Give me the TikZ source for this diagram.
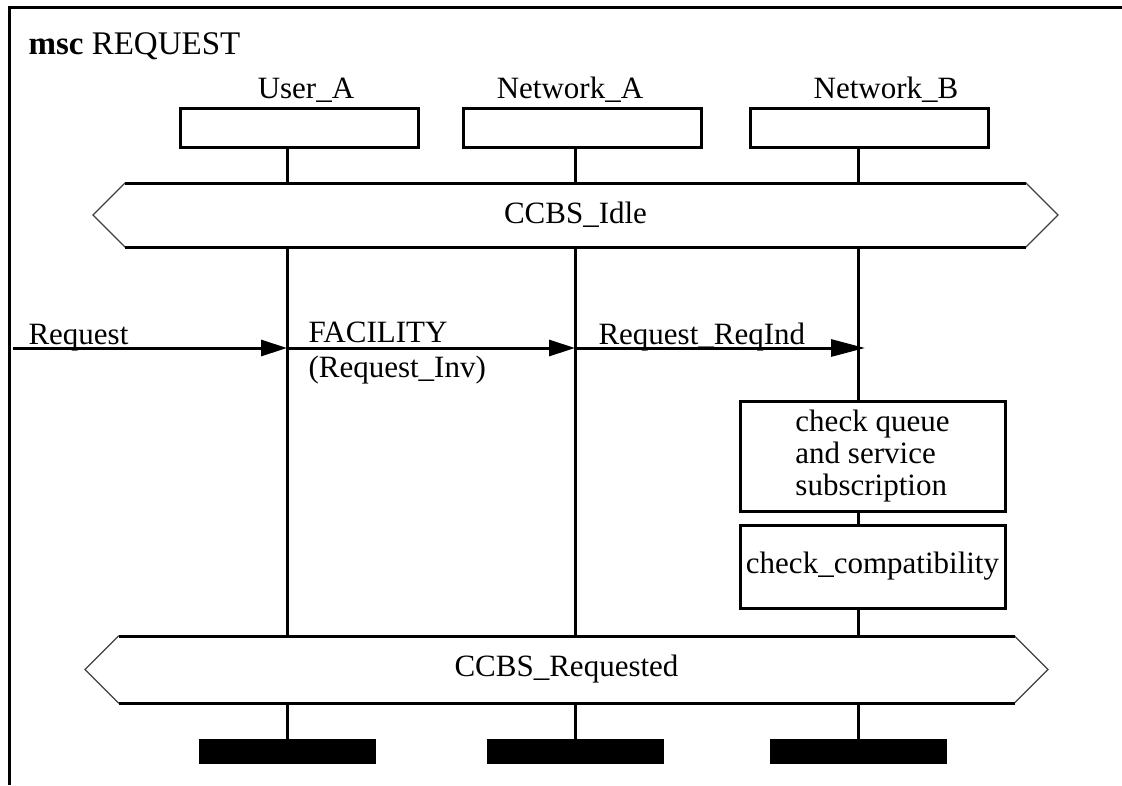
\documentclass[tikz,border=0pt]{standalone}
\usepackage{fontspec}
\setmainfont{Liberation Serif}
\usetikzlibrary{arrows.meta, positioning, shapes.symbols}

\begin{document}
\begin{tikzpicture}[
        x=1pt, y=-1pt,
        every node/.style={font=\fontsize{31}{32}\selectfont},
        head/.style={draw, line width=3pt, minimum width=238pt, minimum height=39pt, inner sep=0pt},
        life/.style={line width=3pt},
        cond/.style={draw=black!75, line width=1.2pt, signal, signal to=east and west, signal pointer angle=90, inner sep=0pt, outer sep=0pt},
        condedge/.style={line width=3pt},
        action/.style={draw, line width=3pt, minimum width=265pt, inner xsep=4pt},
        msg/.style={line width=3pt, -{Triangle[length=26pt, width=16pt]}},
        stopbar/.style={fill=black, minimum width=177pt, minimum height=25pt, inner sep=0pt}
    ]
    \useasboundingbox (0,0) rectangle (1122,785);

    % Frame and title
    \draw[line width=3pt] (9,785) -- (9,7) -- (1122,7);
    \node[anchor=base west, font=\fontsize{33}{38}\selectfont] (title) at (25,54) {\textbf{msc} REQUEST};

    % Draw instance heads
    \foreach \name/\lx/\bx/\lbl/\tx in {usera/287/299/User\_A/306, neta/575/582/Network\_A/570, netb/858/869/Network\_B/886} {
        \coordinate (\name-x) at (\lx,0);
        \node[head] (\name) at (\bx,127.5) {};
        \node[anchor=base] (\name-lbl) at (\tx,98) {\lbl};
        \node[stopbar] (\name-end) at (\lx,751.5) {};
    }

    % Conditions
    \node[cond, minimum width=965pt, minimum height=64pt] (idle) at (575.5,215) {CCBS\_Idle};
    \draw[condedge] ([xshift=-450.5pt]idle.north) -- ([xshift=450.5pt]idle.north);
    \draw[condedge] ([xshift=-450.5pt]idle.south) -- ([xshift=450.5pt]idle.south);
    \node[cond, minimum width=963pt, minimum height=67pt] (req) at (566.5,669.5) {CCBS\_Requested};
    \draw[condedge] ([xshift=-448pt]req.north) -- ([xshift=448pt]req.north);
    \draw[condedge] ([xshift=-448pt]req.south) -- ([xshift=448pt]req.south);

    % Actions on Network_B
    \node[action, minimum height=110pt, align=left, font=\fontsize{31}{32}\selectfont] (chk1) at (872.5,456) {check queue\\and service\\subscription};
    \node[action, minimum height=83pt] (chk2) at (872.5,566.5) {check\_compatibility};

    % Draw lifelines
    \foreach \name in {usera, neta, netb} {
        \draw[life] (\name.south -| \name-x) -- (\name-x |- idle.north);
        \draw[life] (\name-x |- req.south) -- (\name-end.north);
    }
    \foreach \name in {usera, neta} {
        \draw[life] (\name-x |- idle.south) -- (\name-x |- req.north);
    }
    \draw[life] (netb-x |- idle.south) -- (netb-x |- chk1.north);
    \draw[life] (netb-x |- chk1.south) -- (netb-x |- chk2.north);
    \draw[life] (netb-x |- chk2.south) -- (netb-x |- req.north);

    % Messages
    \coordinate (env) at (13,348);
    \coordinate (env-tip) at (865,348);
    \draw[msg] (env) -- (usera-x |- env);
    \draw[msg] (usera-x |- env) -- (neta-x |- env);
    \draw[msg, -{Triangle[length=34pt, width=17pt]}] (neta-x |- env) -- (env-tip);
    \node[anchor=base west] (m1) at (25,344) {Request};
    \node[anchor=base west] (m2) at (305,342) {FACILITY};
    \node[anchor=base west] (m2b) at (305,377) {(Request\_Inv)};
    \node[anchor=base west] (m3) at (595,344) {Request\_ReqInd};

\end{tikzpicture}
\end{document}
